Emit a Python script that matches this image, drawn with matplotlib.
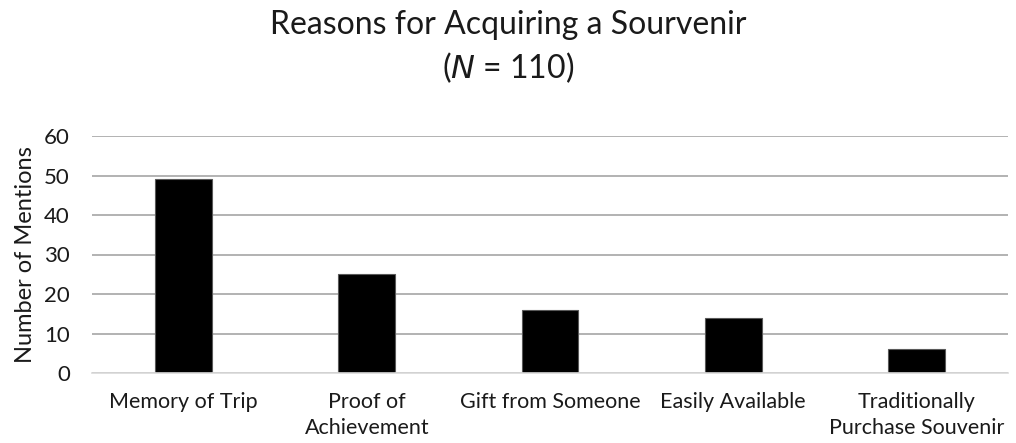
import matplotlib
matplotlib.use("Agg")
import matplotlib.pyplot as plt

categories = ["Memory of Trip", "Proof of\nAchievement", "Gift from Someone",
              "Easily Available", "Traditionally\nPurchase Souvenir"]
mentions = [49, 25, 16, 14, 6]
yticks = [0, 10, 20, 30, 40, 50, 60]

plt.rcParams['font.family'] = ['Lato', 'DejaVu Sans']

fig = plt.figure(figsize=(10.16, 4.43), dpi=100)
ax = fig.add_axes([92/1016, 1-373/443, (1008-92)/1016, (373-136)/443])

x = range(len(categories))
ax.bar(x, mentions, width=0.31, color='black', edgecolor='#595959', linewidth=0.8, zorder=3)
ax.set_xlim(-0.5, len(categories) - 0.5)
ax.set_ylim(0, 60)
ax.set_yticks(yticks)
ax.set_xticks(list(x))
ax.set_xticklabels(categories, fontsize=15.5, color='#1a1a1a', linespacing=1.35)
ax.tick_params(axis='y', labelsize=16, colors='#1a1a1a', length=0, pad=16)
ax.tick_params(axis='x', length=0, pad=14)
ax.yaxis.grid(True, color='#a6a6a6', linewidth=1.2, zorder=0)
for s in ['top', 'right', 'left']:
    ax.spines[s].set_visible(False)
ax.spines['bottom'].set_color('#d9d9d9')
ax.spines['bottom'].set_linewidth(1.2)
ax.spines['bottom'].set_zorder(4)
ax.set_ylabel("Number of Mentions", fontsize=17, color='#1a1a1a', labelpad=6)

fig.text(0.5, 1-34/443, "Reasons for Acquiring a Sourvenir", ha='center', va='baseline',
         fontsize=23, color='#1a1a1a')
fig.text(0.5, 1-78/443, r"($\it{N}$ = 110)", ha='center', va='baseline',
         fontsize=23, color='#1a1a1a')

fig.savefig("out.png", dpi=100)
